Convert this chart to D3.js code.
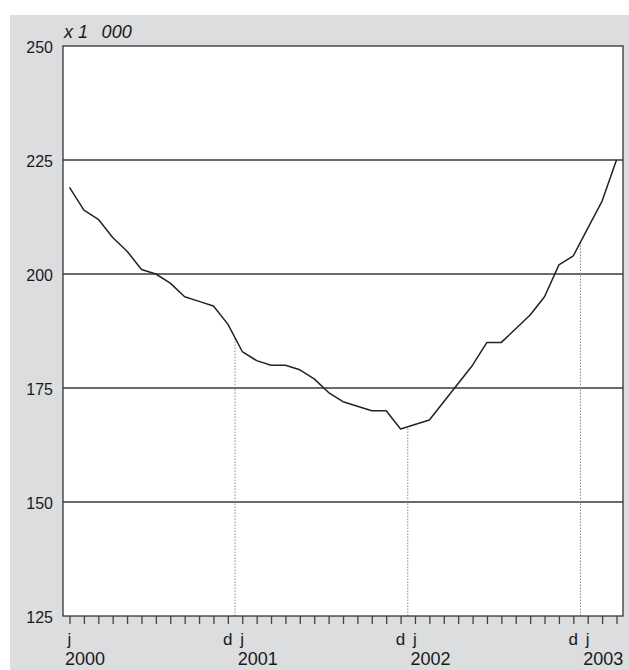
<!DOCTYPE html>
<html>
<head>
<meta charset="utf-8">
<script src="https://cdn.jsdelivr.net/npm/d3@7"></script>
<style>
  html, body { margin: 0; padding: 0; background: #ffffff; }
  svg { display: block; }
  text { font-family: "Liberation Sans", Arial, Helvetica, sans-serif; fill: #1a1a1a; }
</style>
</head>
<body>
<svg id="chart" width="629" height="670"></svg>
<script>
// ---- data ----
const months = [
  "2000-01","2000-02","2000-03","2000-04","2000-05","2000-06","2000-07","2000-08","2000-09","2000-10","2000-11","2000-12",
  "2001-01","2001-02","2001-03","2001-04","2001-05","2001-06","2001-07","2001-08","2001-09","2001-10","2001-11","2001-12",
  "2002-01","2002-02","2002-03","2002-04","2002-05","2002-06","2002-07","2002-08","2002-09","2002-10","2002-11","2002-12",
  "2003-01","2003-02","2003-03"
];
const values = [
  219, 214, 212, 208, 205, 201, 200, 198, 195, 194, 193, 189,
  183, 181, 180, 180, 179, 177, 174, 172, 171, 170, 170, 166,
  167, 168, 172, 176, 180, 185, 185, 188, 191, 195, 202, 204,
  210, 216, 225
];
const yTicks = [125, 150, 175, 200, 225, 250];
const gridValues = [150, 175, 200, 225];
const monthLabels = { "01": "j", "12": "d" };
const yearLabels = ["2000", "2001", "2002", "2003"];
const unitLabel = "x 1\u00a0\u00a0\u2009000";

// ---- layout ----
const svg = d3.select("#chart");
const plot = { left: 63, right: 623, top: 46, bottom: 616 };

svg.append("rect")
  .attr("x", 10).attr("y", 15)
  .attr("width", 619).attr("height", 655)
  .attr("fill", "#dcdddf");

svg.append("rect")
  .attr("x", plot.left).attr("y", plot.top)
  .attr("width", plot.right - plot.left).attr("height", plot.bottom - plot.top)
  .attr("fill", "#ffffff");

const x = d3.scalePoint().domain(months).range([69.5, 616.5]);
const y = d3.scaleLinear().domain([125, 250]).range([plot.bottom, plot.top]);

// gridlines
svg.append("g").selectAll("line").data(gridValues).join("line")
  .attr("x1", plot.left).attr("x2", plot.right)
  .attr("y1", d => y(d)).attr("y2", d => y(d))
  .attr("stroke", "#3a3a3a").attr("stroke-width", 1.3);

// dotted year separators (between December and January)
const seps = [];
months.forEach((m, i) => {
  if (m.endsWith("-12") && i + 1 < months.length) {
    seps.push({ xm: (x(m) + x(months[i + 1])) / 2, v: (values[i] + values[i + 1]) / 2 });
  }
});
svg.append("g").selectAll("line").data(seps).join("line")
  .attr("x1", d => d.xm).attr("x2", d => d.xm)
  .attr("y1", plot.bottom).attr("y2", d => y(d.v))
  .attr("stroke", "#8a8a8a").attr("stroke-width", 1)
  .attr("stroke-dasharray", "1.5,1.5");

// series line
svg.append("path")
  .datum(values)
  .attr("fill", "none")
  .attr("stroke", "#222222")
  .attr("stroke-width", 1.5)
  .attr("stroke-linejoin", "round")
  .attr("d", d3.line().x((d, i) => x(months[i])).y(d => y(d)));

// plot border
svg.append("rect")
  .attr("x", plot.left).attr("y", plot.top)
  .attr("width", plot.right - plot.left).attr("height", plot.bottom - plot.top)
  .attr("fill", "none").attr("stroke", "#333333").attr("stroke-width", 1.3);

// x axis ticks
const xAxis = svg.append("g")
  .attr("transform", `translate(0,${plot.bottom})`)
  .call(d3.axisBottom(x).tickSize(8).tickFormat(""));
xAxis.select(".domain").remove();
xAxis.selectAll(".tick line").attr("stroke", "#444").attr("stroke-width", 1.3);

// month letters
svg.append("g").selectAll("text")
  .data(months.filter(m => monthLabels[m.slice(5)]))
  .join("text")
  .attr("x", d => x(d)).attr("y", 645)
  .attr("text-anchor", "middle")
  .style("font-size", "17px")
  .text(d => monthLabels[d.slice(5)]);

// year labels
svg.append("g").selectAll("text")
  .data(yearLabels)
  .join("text")
  .attr("x", d => x(d + "-01") - 4.5).attr("y", 665)
  .attr("text-anchor", "start")
  .style("font-size", "18px")
  .text(d => d);

// y axis labels
const yAxis = svg.append("g")
  .attr("transform", `translate(${plot.left},0)`)
  .call(d3.axisLeft(y).tickValues(yTicks).tickSize(0).tickPadding(10));
yAxis.select(".domain").remove();
yAxis.selectAll(".tick text")
  .style("font-size", "16px")
  .style("font-family", "'Liberation Sans', Arial, sans-serif")
  .attr("fill", "#1a1a1a")
  .attr("dy", "0.38em");

// unit label
svg.append("text")
  .attr("x", 64).attr("y", 38)
  .style("font-size", "18px")
  .style("font-style", "italic")
  .style("white-space", "pre")
  .text(unitLabel);
</script>
</body>
</html>
